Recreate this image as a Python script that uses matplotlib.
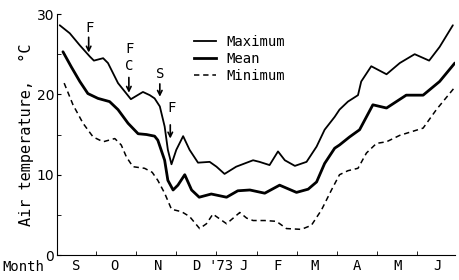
import matplotlib
matplotlib.use("Agg")
import matplotlib.pyplot as plt
from matplotlib.lines import Line2D

# x in months since 1 Sep 1972
max_x = [0.10, 0.35, 0.60, 0.85, 0.95, 1.18, 1.30, 1.55, 1.87, 2.17, 2.34, 2.46, 2.59, 2.71, 2.79,
         2.88, 3.00, 3.17, 3.33, 3.54, 3.83, 4.00, 4.20, 4.49, 4.70, 4.91, 5.07, 5.32, 5.53, 5.70,
         5.95, 6.24, 6.49, 6.69, 6.94, 7.06, 7.27, 7.52, 7.60, 7.85, 8.23, 8.56, 8.93, 9.29, 9.55, 9.88]
max_t = [28.6, 27.6, 26.1, 24.7, 24.2, 24.5, 23.9, 21.4, 19.4, 20.3, 19.9, 19.5, 18.5, 16.0, 13.1,
         11.3, 13.1, 14.8, 13.1, 11.5, 11.6, 11.0, 10.1, 11.0, 11.4, 11.8, 11.6, 11.2, 12.9, 11.8,
         11.1, 11.6, 13.5, 15.6, 17.2, 18.1, 19.1, 19.9, 21.6, 23.5, 22.5, 23.9, 25.0, 24.2, 25.9, 28.6]

mean_x = [0.18, 0.39, 0.60, 0.80, 1.05, 1.34, 1.55, 1.80, 2.05, 2.26, 2.46, 2.54, 2.71, 2.79, 2.92,
          3.04, 3.21, 3.38, 3.57, 3.87, 4.25, 4.53, 4.83, 5.20, 5.57, 5.99, 6.28, 6.49, 6.69, 6.94,
          7.06, 7.31, 7.56, 7.89, 8.23, 8.72, 9.14, 9.55, 9.93]
mean_t = [25.3, 23.4, 21.6, 20.1, 19.5, 19.1, 18.1, 16.4, 15.1, 15.0, 14.8, 14.3, 11.8, 9.3, 8.1,
          8.7, 10.0, 8.1, 7.2, 7.6, 7.2, 8.0, 8.1, 7.7, 8.7, 7.8, 8.2, 9.1, 11.4, 13.3,
          13.7, 14.7, 15.6, 18.7, 18.3, 19.9, 19.9, 21.6, 23.9]

min_x = [0.21, 0.43, 0.68, 0.93, 1.18, 1.47, 1.63, 1.76, 1.92, 2.21, 2.40, 2.54, 2.71, 2.88, 3.13,
         3.33, 3.58, 3.75, 3.91, 4.25, 4.58, 4.75, 4.91, 5.20, 5.49, 5.74, 6.11, 6.36, 6.61, 6.86,
         7.06, 7.27, 7.52, 7.73, 7.98, 8.23, 8.56, 9.14, 9.47, 9.93]
min_t = [21.4, 18.7, 16.4, 14.7, 14.1, 14.5, 13.7, 12.2, 11.0, 10.8, 10.3, 9.3, 7.7, 5.7, 5.4,
         4.8, 3.3, 3.9, 5.1, 3.9, 5.3, 4.6, 4.3, 4.3, 4.2, 3.3, 3.2, 3.7, 5.6, 8.1,
         10.0, 10.5, 10.8, 12.7, 13.9, 14.1, 14.9, 15.8, 18.1, 20.9]

month_labels = ["S", "O", "N", "D", "'73", "J", "F", "M", "A", "M", "J"]
month_label_pos = [0.52, 1.47, 2.54, 3.50, 4.12, 4.66, 5.52, 6.44, 7.49, 8.50, 9.50]
month_bounds = [1, 2, 3, 4, 5, 6, 7, 8, 9]

# event annotations: (label, x, text_y, arrow_top, arrow_bottom)
events = [("F", 0.82, 28.2, 27.1, 25.2),
          ("F\nC", 1.82, 24.6, 22.1, 20.2),
          ("S", 2.59, 22.5, 21.3, 19.7),
          ("F", 2.85, 18.3, 16.2, 14.5)]

mono = "DejaVu Sans Mono"

fig = plt.figure(figsize=(4.59, 2.80), dpi=100)
ax = fig.add_axes([0.124, 0.089, 0.867, 0.861])

style = dict(color="black", solid_joinstyle="round", solid_capstyle="round")
ax.plot(max_x, max_t, lw=1.3, **style)
ax.plot(mean_x, mean_t, lw=2.0, **style)
ax.plot(min_x, min_t, color="black", lw=1.1, dashes=(3.5, 2.5))

for lab, x, ty, a0, a1 in events:
    ax.annotate("", xy=(x, a1), xytext=(x, a0),
                arrowprops=dict(arrowstyle="->", color="black", lw=1.2,
                                shrinkA=0, shrinkB=0, mutation_scale=8))
    ax.text(x + 0.02, ty, lab, ha="center", va="center", family=mono, fontsize=10,
            linespacing=1.3)

ax.set_xlim(0.03, 9.93)
ax.set_ylim(0, 30)

for s in ("top", "right"):
    ax.spines[s].set_visible(False)

ax.set_yticks([0, 10, 20, 30])
ax.set_yticks([5, 15, 25], minor=True)
ax.tick_params(axis="y", which="both", direction="in", length=3, pad=2, labelsize=10)
ax.set_xticks(month_label_pos)
ax.set_xticklabels(month_labels, family=mono, fontsize=10)
ax.set_xticks(month_bounds, minor=True)
ax.tick_params(axis="x", which="major", length=0, pad=3)
ax.tick_params(axis="x", which="minor", direction="in", length=3)

ax.set_ylabel("Air temperature,  °C", family=mono, fontsize=11, labelpad=2)
fig.text(0.005, 0.045, "Month", family=mono, fontsize=10, ha="left", va="center")

handles = [Line2D([], [], color="black", lw=1.3),
           Line2D([], [], color="black", lw=2.0),
           Line2D([], [], color="black", lw=1.1, dashes=(3.5, 2.5))]
ax.legend(handles, ["Maximum", "Mean", "Minimum"], loc="upper left",
          bbox_to_anchor=(0.33, 0.935), frameon=False, prop=dict(family=mono, size=10),
          handlelength=1.6, handletextpad=0.75, labelspacing=0.22, borderaxespad=0)

fig.savefig("out.png", dpi=100)
